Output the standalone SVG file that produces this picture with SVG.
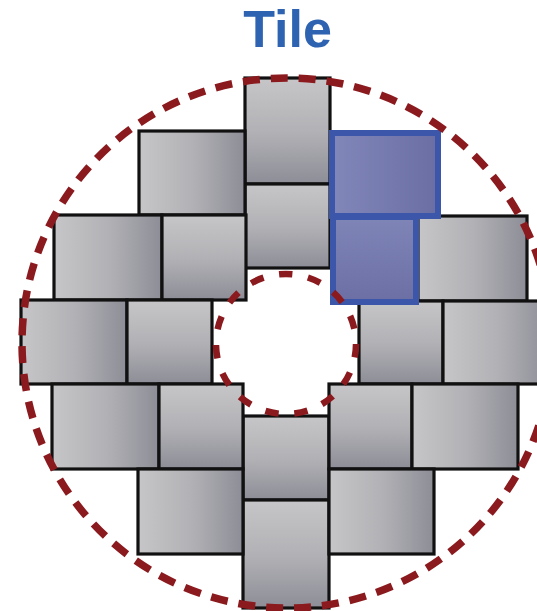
<svg xmlns="http://www.w3.org/2000/svg" width="537" height="611" viewBox="0 0 537 611">
<defs>
<linearGradient id="gh" x1="0" y1="0" x2="1" y2="0"><stop offset="0" stop-color="#c6c6c8"/><stop offset="0.5" stop-color="#b2b2b6"/><stop offset="1" stop-color="#8d8d97"/></linearGradient>
<linearGradient id="gv" x1="0" y1="0" x2="0" y2="1"><stop offset="0" stop-color="#c6c6c8"/><stop offset="0.5" stop-color="#b2b2b6"/><stop offset="1" stop-color="#8d8d97"/></linearGradient>
<linearGradient id="bh" x1="0" y1="0" x2="1" y2="0"><stop offset="0" stop-color="#8287ba"/><stop offset="1" stop-color="#6a6ea3"/></linearGradient>
<linearGradient id="bv" x1="0" y1="0" x2="0" y2="1"><stop offset="0" stop-color="#8085b8"/><stop offset="1" stop-color="#6b6fa4"/></linearGradient>
<style>
.h{fill:url(#gh);stroke:#111;stroke-width:3.2}
.v{fill:url(#gv);stroke:#111;stroke-width:3.2}
.bt{stroke:#3c56a9;stroke-width:6}
.dash{fill:none;stroke:#8b1a1e}
.title{font-family:"Liberation Sans",Arial,sans-serif;font-weight:bold;font-size:52px;fill:#2d63b1}
</style>
</defs>
<text class="title" x="287.5" y="47" text-anchor="middle">Tile</text>
<g id="tiles">
<g id="c1"><rect class="v" x="245" y="78" width="85" height="106"/></g>
<g id="c2"><rect class="v" x="245" y="184" width="85" height="84"/></g>
<g id="c3"><rect class="v" x="243" y="416" width="86" height="84"/></g>
<g id="c4"><rect class="v" x="243" y="500" width="86" height="108"/></g>
<g id="r1l"><rect class="h" x="139" y="131" width="106" height="84"/></g>
<g id="r2a"><rect class="h" x="54" y="215" width="108" height="85"/></g>
<g id="r2b"><rect class="v" x="162" y="215" width="84" height="85"/></g>
<g id="r2d"><rect class="h" x="418" y="216" width="109" height="85"/></g>
<g id="r3a"><rect class="h" x="21" y="300" width="106" height="84"/></g>
<g id="r3b"><rect class="v" x="127" y="300" width="85" height="84"/></g>
<g id="r3c"><rect class="v" x="359" y="301" width="84" height="83"/></g>
<g id="r3d"><rect class="h" x="443" y="301" width="107" height="83"/></g>
<g id="r4a"><rect class="h" x="52" y="384" width="107" height="85"/></g>
<g id="r4b"><rect class="v" x="159" y="384" width="84" height="85"/></g>
<g id="r4c"><rect class="v" x="329" y="384" width="83" height="85"/></g>
<g id="r4d"><rect class="h" x="412" y="384" width="106" height="85"/></g>
<g id="r5a"><rect class="h" x="138" y="469" width="105" height="85"/></g>
<g id="r5b"><rect class="h" x="329" y="469" width="105" height="85"/></g>
<g id="blue2"><rect class="bt" fill="url(#bv)" x="333" y="217" width="83" height="85"/></g>
<g id="blue1"><rect class="bt" fill="url(#bh)" x="332" y="133" width="106" height="83"/></g>
</g>
<g id="circles">
<circle class="dash" cx="287" cy="343" r="265" stroke-width="7.5" stroke-dasharray="17 11"/>
<circle class="dash" cx="286" cy="344" r="70" stroke-width="6.5" stroke-dasharray="13.5 15.8"/>
</g>
</svg>
